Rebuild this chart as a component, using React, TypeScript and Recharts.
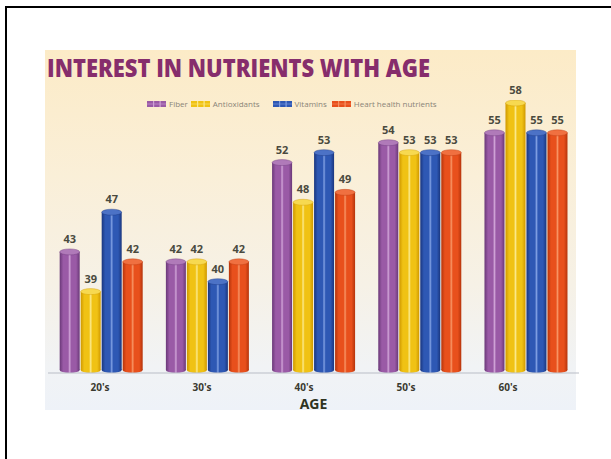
import React from 'react';
import { BarChart, Bar, XAxis, YAxis, LabelList, Legend } from 'recharts';

const ages = ["20's", "30's", "40's", "50's", "60's"];
const fiber = [43, 42, 52, 54, 55];
const antioxidants = [39, 42, 48, 53, 58];
const vitamins = [47, 40, 53, 53, 55];
const heart = [42, 42, 49, 53, 55];

const seriesNames = ['Fiber', 'Antioxidants', 'Vitamins', 'Heart health nutrients'];

const data = ages.map((age, i) => ({
  age,
  fiber: fiber[i],
  antioxidants: antioxidants[i],
  vitamins: vitamins[i],
  heart: heart[i],
}));

const palette: Record<string, { base: string; dark: string; light: string; cap: string }> = {
  fiber: { base: '#9a5aa6', dark: '#6a3878', light: '#cfa2d6', cap: '#b07ab9' },
  antioxidants: { base: '#f0c214', dark: '#cf9800', light: '#fbe98a', cap: '#f7d950' },
  vitamins: { base: '#2e58b4', dark: '#1a367e', light: '#7e9ee2', cap: '#4c72c6' },
  heart: { base: '#e8501c', dark: '#b5340b', light: '#f79464', cap: '#f07040' },
};

const keys = ['fiber', 'antioxidants', 'vitamins', 'heart'];

const makeCylinder = (key: string) => (props: any) => {
  const { x, y, width, height } = props;
  if (width == null || height == null || height <= 0) return null;
  const ry = 3;
  const cx = x + width / 2;
  const rx = width / 2;
  const c = palette[key];
  return (
    <g>
      <rect x={x} y={y + ry} width={width} height={Math.max(0, height - ry * 2)} fill={`url(#grad-${key})`} />
      <ellipse cx={cx} cy={y + height - ry} rx={rx} ry={ry} fill={`url(#grad-${key})`} />
      <ellipse cx={cx} cy={y + ry} rx={rx} ry={ry} fill={c.cap} stroke={c.dark} strokeWidth={0.4} />
    </g>
  );
};

const legendGaps = [3, 13, 5, 0];

const LegendContent = () => (
  <div style={{ display: 'flex', alignItems: 'center', fontFamily: '"Open Sans", sans-serif', fontSize: 8, color: '#8a8478', whiteSpace: 'nowrap' }}>
    {keys.map((k, i) => (
      <div key={k} style={{ display: 'flex', alignItems: 'center', marginRight: legendGaps[i] }}>
        <svg width={19} height={6} style={{ marginRight: 3 }}>
          <rect x={0} y={0} width={19} height={6} fill={palette[k].base} />
          <rect x={6} y={0} width={1.2} height={6} fill={palette[k].light} />
          <rect x={12.5} y={0} width={1.2} height={6} fill={palette[k].light} />
          <rect x={0} y={2.5} width={19} height={1} fill={palette[k].light} opacity={0.6} />
        </svg>
        <span>{seriesNames[i]}</span>
      </div>
    ))}
  </div>
);

export default function App() {
  return (
    <div style={{ position: 'absolute', left: 0, top: 0, width: 611, height: 459, background: '#ffffff', overflow: 'hidden' }}>
      <div style={{ position: 'absolute', left: 5, top: 6, width: 700, height: 600, borderLeft: '2.5px solid #000', borderTop: '2.5px solid #000' }} />
      <div
        style={{
          position: 'absolute',
          left: 45,
          top: 50,
          width: 531,
          height: 360,
          background: 'linear-gradient(to bottom, #fcebc7 0%, #faefd8 35%, #f6f1e6 65%, #f1f3f5 88%, #eef2f8 100%)',
        }}
      />
      <svg style={{ position: 'absolute', left: 0, top: 0 }} width={611} height={90}>
        <text x={47} y={77} fontFamily='"Open Sans", sans-serif' fontWeight={800} fontSize={25} fill="#862d6c" textLength={383} lengthAdjust="spacingAndGlyphs">
          INTEREST IN NUTRIENTS WITH AGE
        </text>
      </svg>
      <div style={{ position: 'absolute', left: 0, top: 0 }}>
        <BarChart
          width={611}
          height={459}
          data={data}
          margin={{ top: 100, right: 32, bottom: 55, left: 48 }}
          barCategoryGap="11%"
          barGap={1}
        >
          <defs>
            {keys.map((k) => (
              <linearGradient key={k} id={`grad-${k}`} x1="0" y1="0" x2="1" y2="0">
                <stop offset="0%" stopColor={palette[k].dark} />
                <stop offset="18%" stopColor={palette[k].base} />
                <stop offset="42%" stopColor={palette[k].base} />
                <stop offset="50%" stopColor={palette[k].light} />
                <stop offset="58%" stopColor={palette[k].base} />
                <stop offset="82%" stopColor={palette[k].base} />
                <stop offset="100%" stopColor={palette[k].dark} />
              </linearGradient>
            ))}
          </defs>
          <XAxis dataKey="age" height={1} tick={false} tickLine={false} axisLine={{ stroke: '#b9bdc6', strokeWidth: 1 }} />
          <XAxis
            xAxisId="lbl"
            dataKey="age"
            height={30}
            axisLine={false}
            tickLine={false}
            padding={{ left: 1, right: 20 }}
            tick={{ fontSize: 10, fontWeight: 700, fill: '#3a3a30', fontFamily: '"Open Sans", sans-serif' }}
            tickMargin={4}
            label={{ value: 'AGE', position: 'insideBottom', offset: -5, fontSize: 14, fontWeight: 700, fill: '#2e3322', fontFamily: '"Open Sans", sans-serif' }}
          />
          <YAxis hide domain={[30.5, 58]} allowDataOverflow />
          <Legend
            verticalAlign="middle"
            align="center"
            layout="horizontal"
            content={<LegendContent />}
            wrapperStyle={{ top: 98, left: 147, width: 330, bottom: 'auto' }}
          />
          {keys.map((k, i) => (
            <Bar key={k} dataKey={k} name={seriesNames[i]} fill={palette[k].base} shape={makeCylinder(k)} isAnimationActive={false}>
              <LabelList dataKey={k} position="top" offset={6} style={{ fontSize: 11, fontWeight: 700, fill: '#4a4a3e', fontFamily: '"Open Sans", sans-serif' }} />
            </Bar>
          ))}
        </BarChart>
      </div>
    </div>
  );
}
